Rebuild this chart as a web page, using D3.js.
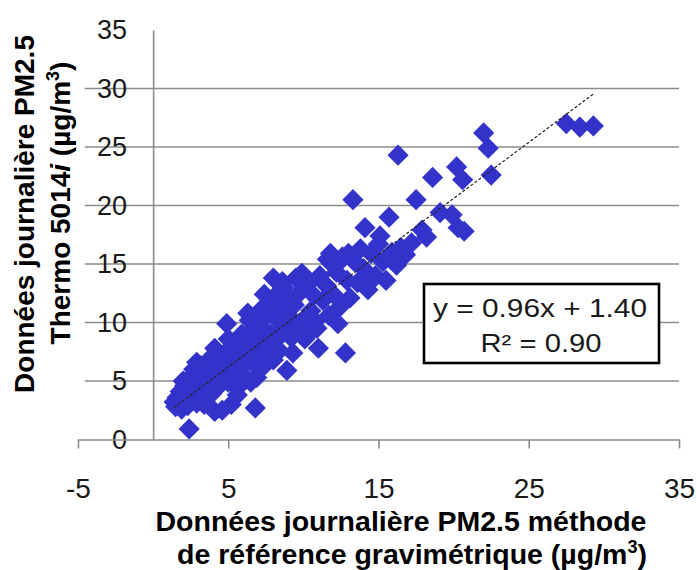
<!DOCTYPE html>
<html>
<head>
<meta charset="utf-8">
<script src="https://cdn.jsdelivr.net/npm/d3@7"></script>
<style>
  html, body { margin: 0; padding: 0; background: #fff; }
  svg { display: block; font-family: "Liberation Sans", Arial, sans-serif; }
</style>
</head>
<body>
<svg id="chart" width="697" height="570"></svg>
<script>
// Daily PM2.5: gravimetric reference method (x) vs Thermo 5014i (y), µg/m³
const refValues = [
  1.4, 1.5, 1.6, 1.8, 1.9, 2.0, 2.1, 2.2, 2.3, 2.4, 2.4, 2.5, 2.6, 2.7, 2.8, 2.9,
  3.0, 3.1, 3.2, 3.3, 3.4, 3.5, 3.6, 3.7, 3.8, 3.9, 4.0, 4.1, 4.2, 4.3, 4.4, 4.5,
  4.6, 4.7, 4.8, 4.9, 5.0, 5.1, 5.2, 5.3, 5.4, 5.5, 5.6, 5.7, 5.8, 5.9, 6.0, 6.1,
  6.2, 6.3, 6.4, 6.5, 6.6, 6.7, 6.8, 6.9, 7.0, 7.1, 7.2, 7.3, 7.4, 7.5, 7.6, 7.7,
  7.8, 7.9, 8.0, 8.1, 8.2, 8.3, 8.4, 8.5, 8.6, 8.7, 8.9, 9.0, 9.1, 9.2, 9.4, 9.5,
  9.6, 9.8, 10.0, 10.1, 10.3, 10.5, 10.7, 10.9, 11.0, 11.1, 11.3, 11.5, 11.7, 11.8,
  11.9, 12.0, 12.2, 12.4, 12.5, 12.6, 12.8, 12.9, 13.1, 13.3, 13.4, 13.6, 13.8,
  14.0, 14.1, 14.3, 14.5, 14.8, 15.0, 15.3, 15.5, 15.7, 15.9, 16.2, 16.3, 16.5,
  16.8, 17.2, 17.5, 17.9, 18.2, 18.6, 19.1, 19.9, 20.2, 20.3, 20.6, 20.7, 22.0,
  22.3, 22.5, 27.5, 28.4, 29.3,
  2.0, 2.9, 3.4, 4.1, 5.0, 5.6, 6.3, 6.9, 7.4, 8.0, 8.6, 9.3, 9.9, 10.4, 10.8,
  11.6, 12.3, 13.0, 14.4, 15.1
];
const thermoValues = [
  3.2, 2.8, 3.6, 4.1, 2.6, 3.3, 4.6, 3.8, 2.9, 0.9, 5.2, 4.3, 3.5, 6.0, 4.8, 3.1,
  5.5, 4.0, 6.3, 4.9, 3.6, 5.8, 4.4, 6.8, 5.1, 3.9, 6.1, 2.4, 5.4, 7.0, 4.6, 6.4,
  2.5, 5.7, 7.4, 9.9, 4.9, 6.7, 3.0, 8.0, 5.9, 7.1, 4.4, 8.5, 6.3, 9.0, 7.6, 5.4,
  8.2, 6.8, 10.2, 4.9, 9.4, 7.3, 2.7, 8.8, 6.1, 11.0, 9.6, 6.2, 8.1, 10.5, 7.0, 12.0,
  9.0, 11.4, 13.8, 8.4, 10.3, 12.5, 7.6, 11.1, 9.5, 13.0, 5.9, 10.6, 12.0, 8.7, 11.5, 13.8,
  9.8, 12.6, 10.2, 8.6, 13.3, 11.0, 12.3, 9.5, 7.8, 14.0, 11.9, 13.2, 10.6, 15.9,
  15.0, 12.4, 14.3, 11.3, 15.3, 15.6, 7.4, 13.6, 12.1, 20.5, 15.2, 13.4, 16.3,
  14.6, 18.1, 12.8, 15.9, 14.0, 16.7, 15.2, 13.6, 19.0, 16.0, 14.9, 24.3, 16.4,
  15.8, 16.8, 20.5, 17.9, 17.3, 22.4, 19.4, 19.2, 23.3, 18.1, 22.2, 17.8, 26.2,
  24.9, 22.6, 27.0, 26.7, 26.8,
  5.0, 6.6, 3.0, 7.8, 8.6, 3.8, 10.8, 5.3, 12.4, 6.8, 13.5, 7.4, 14.2, 9.1, 10.1,
  15.4, 9.9, 15.9, 13.4, 17.4
];

// Linear fit as stated in the label
const fitSlope = 0.96;
const fitIntercept = 1.40;
const fitLabel = "y = 0.96x + 1.40";
const r2Label = "R² = 0.90";

const xTicks = [-5, 5, 15, 25, 35];
const yTicks = [0, 5, 10, 15, 20, 25, 30, 35];
const yGrid = [5, 10, 15, 20, 25, 30];

const points = refValues.map((v, i) => ({ x: v, y: thermoValues[i] }));

const svg = d3.select("#chart");
const x = d3.scaleLinear().domain([-5, 35]).range([78, 679]);
const y = d3.scaleLinear().domain([0, 35]).range([439.5, 30]);

const gridColor = "#8c8c8c";
const textColor = "#1a1a1a";
const plainNumber = d => String(d);

// Horizontal gridlines
svg.append("g")
  .selectAll("line")
  .data(yGrid)
  .join("line")
  .attr("x1", x(-4.55)).attr("x2", x(35))
  .attr("y1", d => y(d)).attr("y2", d => y(d))
  .attr("stroke", gridColor)
  .attr("stroke-width", 1.6);

// Vertical axis crossing at x = 0, labels far to the left
const yAxis = svg.append("g")
  .attr("transform", `translate(${x(0)},0)`)
  .call(d3.axisLeft(y).tickValues(yTicks).tickSize(0).tickPadding(26).tickFormat(plainNumber));
yAxis.select(".domain").attr("stroke", gridColor).attr("stroke-width", 1.6);
yAxis.selectAll("text")
  .attr("font-size", 27)
  .attr("fill", textColor)
  .attr("font-family", "Liberation Sans, Arial, sans-serif");

// Horizontal axis at y = 0
const xAxis = svg.append("g")
  .attr("transform", `translate(0,${y(0)})`)
  .call(d3.axisBottom(x).tickValues(xTicks).tickSize(9).tickSizeOuter(0).tickPadding(30).tickFormat(plainNumber));
xAxis.select(".domain").attr("stroke", gridColor).attr("stroke-width", 1.6);
xAxis.selectAll(".tick line").attr("stroke", gridColor).attr("stroke-width", 1.6);
xAxis.selectAll("text")
  .attr("font-size", 28)
  .attr("fill", textColor)
  .attr("font-family", "Liberation Sans, Arial, sans-serif");

// Diamond markers
const diamond = d3.symbol().type(d3.symbolSquare).size(225);
svg.append("g")
  .selectAll("path")
  .data(points)
  .join("path")
  .attr("d", diamond)
  .attr("transform", d => `translate(${x(d.x)},${y(d.y)}) rotate(45)`)
  .attr("fill", "#3333cc");

// Linear trend line across the data range
const xExt = d3.extent(points, d => d.x);
svg.append("line")
  .attr("x1", x(xExt[0])).attr("y1", y(fitSlope * xExt[0] + fitIntercept))
  .attr("x2", x(xExt[1])).attr("y2", y(fitSlope * xExt[1] + fitIntercept))
  .attr("stroke", "#222")
  .attr("stroke-width", 1.2)
  .attr("stroke-dasharray", "3,2");

// Equation box
const box = svg.append("g");
box.append("rect")
  .attr("x", 424).attr("y", 284)
  .attr("width", 235).attr("height", 79)
  .attr("fill", "#fff")
  .attr("stroke", "#000")
  .attr("stroke-width", 2.6);
box.append("text")
  .attr("x", 540).attr("y", 317)
  .attr("text-anchor", "middle")
  .attr("font-size", 26)
  .attr("fill", textColor)
  .attr("textLength", 214)
  .attr("lengthAdjust", "spacingAndGlyphs")
  .text(fitLabel);
box.append("text")
  .attr("x", 541).attr("y", 352)
  .attr("text-anchor", "middle")
  .attr("font-size", 26)
  .attr("fill", textColor)
  .attr("textLength", 121)
  .attr("lengthAdjust", "spacingAndGlyphs")
  .text(r2Label);

// X axis title
svg.append("text")
  .attr("x", 401).attr("y", 531)
  .attr("text-anchor", "middle")
  .attr("font-size", 28.5).attr("font-weight", "bold").attr("fill", "#000")
  .text("Données journalière PM2.5 méthode");
const xt2 = svg.append("text")
  .attr("x", 412).attr("y", 564)
  .attr("text-anchor", "middle")
  .attr("font-size", 28.5).attr("font-weight", "bold").attr("fill", "#000");
xt2.append("tspan").text("de référence gravimétrique (µg/m");
xt2.append("tspan").attr("font-size", 18).attr("dy", -11).text("3");
xt2.append("tspan").attr("dy", 11).text(")");

// Y axis title (rotated)
svg.append("text")
  .attr("transform", "translate(34,214) rotate(-90)")
  .attr("text-anchor", "middle")
  .attr("font-size", 28).attr("font-weight", "bold").attr("fill", "#000")
  .text("Données journalière PM2.5");
const yt2 = svg.append("text")
  .attr("transform", "translate(70,203) rotate(-90)")
  .attr("text-anchor", "middle")
  .attr("font-size", 28).attr("font-weight", "bold").attr("fill", "#000");
yt2.append("tspan").text("Thermo 5014");
yt2.append("tspan").attr("font-style", "italic").text("i");
yt2.append("tspan").text(" (µg/m");
yt2.append("tspan").attr("font-size", 18).attr("dy", -11).text("3");
yt2.append("tspan").attr("dy", 11).text(")");
</script>
</body>
</html>
